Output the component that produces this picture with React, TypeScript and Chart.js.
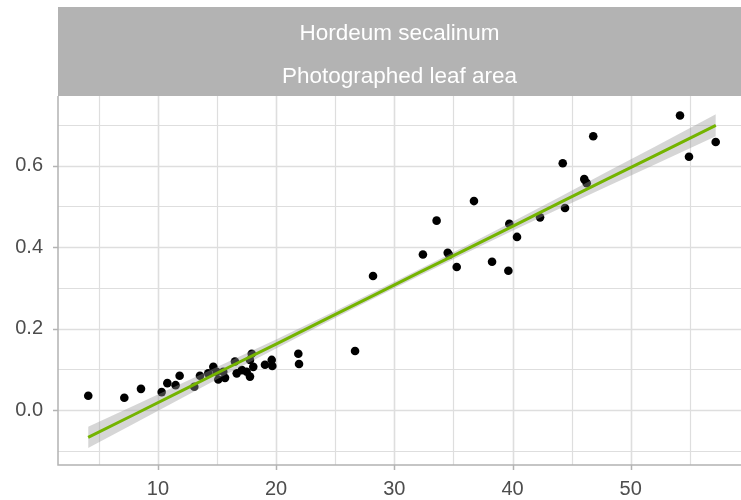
import React, { useEffect, useRef } from "react";
import { Chart, registerables } from "chart.js";

Chart.register(...registerables);

const stripLine1 = "Hordeum secalinum";
const stripLine2 = "Photographed leaf area";

const pointX = [
  4.11, 7.16, 8.57, 10.32, 10.8, 11.5, 11.84, 13.08, 13.56, 14.26, 14.69, 14.97, 15.11, 15.53, 15.68,
  16.52, 16.67, 17.1, 17.51, 17.79, 17.94, 18.07, 17.79, 19.06, 19.63, 19.68, 21.88, 21.94, 26.68,
  28.2, 32.42, 33.58, 34.52, 34.63, 35.28, 36.74, 38.27, 39.65, 39.73, 40.38, 42.33, 46.83, 44.25,
  46.07, 46.28, 44.44, 54.17, 54.93, 57.19,
];
const pointY = [
  0.035, 0.03, 0.052, 0.044, 0.066, 0.061, 0.084, 0.057, 0.084, 0.09, 0.106, 0.094, 0.075, 0.094, 0.079,
  0.119, 0.09, 0.098, 0.094, 0.123, 0.138, 0.106, 0.082, 0.111, 0.123, 0.108, 0.138, 0.113, 0.145,
  0.329, 0.382, 0.465, 0.386, 0.381, 0.351, 0.513, 0.364, 0.342, 0.457, 0.425, 0.473, 0.672, 0.606,
  0.567, 0.557, 0.496, 0.723, 0.622, 0.658,
];

const fitX = [4.1, 8, 12, 16, 20, 24, 28, 32, 36, 40, 44, 48, 52, 57.2];
const fitY = [-0.067, -0.011, 0.047, 0.105, 0.162, 0.22, 0.278, 0.336, 0.393, 0.451, 0.509, 0.567, 0.624, 0.699];
const bandHalf = [0.026, 0.022, 0.018, 0.014, 0.011, 0.009, 0.008, 0.008, 0.009, 0.011, 0.014, 0.018, 0.022, 0.027];

const xTicks = [10, 20, 30, 40, 50];
const xMinor = [5, 15, 25, 35, 45, 55];
const yTicks = [0, 0.2, 0.4, 0.6];
const yMinor = [-0.1, 0.1, 0.3, 0.5, 0.7];

const X_MIN = 1.55;
const X_MAX = 59.33;
const Y_MIN = -0.135;
const Y_MAX = 0.771;

const FONT = "'Liberation Sans', Arial, sans-serif";

const panelPlugin = {
  id: "panelDeco",
  beforeDatasetsDraw(chart: any) {
    const { ctx, chartArea, scales } = chart;
    const xs = scales.x;
    const ys = scales.y;
    ctx.save();
    ctx.strokeStyle = "#DEDEDE";
    ctx.lineWidth = 1.2;
    const drawV = (v: number) => {
      const px = Math.round(xs.getPixelForValue(v)) + 0.5;
      ctx.beginPath();
      ctx.moveTo(px, chartArea.top);
      ctx.lineTo(px, chartArea.bottom);
      ctx.stroke();
    };
    const drawH = (v: number) => {
      const py = Math.round(ys.getPixelForValue(v)) + 0.5;
      ctx.beginPath();
      ctx.moveTo(chartArea.left, py);
      ctx.lineTo(chartArea.right, py);
      ctx.stroke();
    };
    xMinor.forEach(drawV);
    yMinor.forEach(drawH);
    ctx.lineWidth = 1.6;
    xTicks.forEach(drawV);
    yTicks.forEach(drawH);
    ctx.restore();
  },
  afterDraw(chart: any) {
    const { ctx, chartArea, scales } = chart;
    const xs = scales.x;
    const ys = scales.y;
    ctx.save();
    ctx.strokeStyle = "#B3B3B3";
    ctx.lineWidth = 1.5;
    ctx.beginPath();
    ctx.moveTo(chartArea.left, chartArea.top);
    ctx.lineTo(chartArea.left, chartArea.bottom);
    ctx.lineTo(chartArea.right, chartArea.bottom);
    ctx.stroke();
    xTicks.forEach((v) => {
      const px = Math.round(xs.getPixelForValue(v)) + 0.5;
      ctx.beginPath();
      ctx.moveTo(px, chartArea.bottom);
      ctx.lineTo(px, chartArea.bottom + 5);
      ctx.stroke();
    });
    yTicks.forEach((v) => {
      const py = Math.round(ys.getPixelForValue(v)) + 0.5;
      ctx.beginPath();
      ctx.moveTo(chartArea.left - 5, py);
      ctx.lineTo(chartArea.left, py);
      ctx.stroke();
    });
    const stripTop = 7;
    ctx.fillStyle = "#B3B3B3";
    ctx.fillRect(chartArea.left, stripTop, chartArea.right - chartArea.left + 2, chartArea.top - stripTop);
    ctx.fillStyle = "#FFFFFF";
    ctx.font = `22.5px ${FONT}`;
    ctx.textAlign = "center";
    ctx.textBaseline = "middle";
    const cx = (chartArea.left + chartArea.right) / 2;
    ctx.fillText(stripLine1, cx, 34);
    ctx.fillText(stripLine2, cx, 77);
    ctx.restore();
  },
};

export default function App() {
  const ref = useRef<HTMLCanvasElement | null>(null);
  useEffect(() => {
    if (!ref.current) return;
    const points = pointX.map((x, i) => ({ x, y: pointY[i] }));
    const line = fitX.map((x, i) => ({ x, y: fitY[i] }));
    const lower = fitX.map((x, i) => ({ x, y: fitY[i] - bandHalf[i] }));
    const upper = fitX.map((x, i) => ({ x, y: fitY[i] + bandHalf[i] }));
    const chart = new Chart(ref.current, {
      type: "scatter",
      data: {
        datasets: [
          {
            type: "line",
            data: line,
            borderColor: "#74B400",
            borderWidth: 3,
            pointRadius: 0,
            fill: false,
            order: 1,
          } as any,
          {
            type: "line",
            data: lower,
            borderWidth: 0,
            borderColor: "rgba(0,0,0,0)",
            pointRadius: 0,
            fill: false,
            order: 2,
          } as any,
          {
            type: "line",
            data: upper,
            borderWidth: 0,
            borderColor: "rgba(0,0,0,0)",
            backgroundColor: "rgba(153,153,153,0.4)",
            pointRadius: 0,
            fill: "-1",
            order: 2,
          } as any,
          {
            data: points,
            backgroundColor: "#000000",
            borderColor: "#000000",
            borderWidth: 0,
            pointRadius: 4.3,
            order: 3,
          } as any,
        ],
      },
      options: {
        animation: false,
        responsive: false,
        layout: { autoPadding: false, padding: { top: 96, left: 0, right: 0, bottom: 0 } },
        plugins: { legend: { display: false }, tooltip: { enabled: false }, title: { display: false } },
        scales: {
          x: {
            type: "linear",
            min: X_MIN,
            max: X_MAX,
            afterBuildTicks: (s: any) => {
              s.ticks = xTicks.map((v) => ({ value: v }));
            },
            afterFit: (s: any) => {
              s.height = 35;
              s.paddingLeft = 0;
              s.paddingRight = 0;
            },
            grid: { display: false, drawTicks: false },
            border: { display: false },
            ticks: {
              padding: 12,
              color: "#4D4D4D",
              font: { family: FONT, size: 20 },
              maxRotation: 0,
              callback: (v: any) => String(v),
            },
          },
          y: {
            type: "linear",
            min: Y_MIN,
            max: Y_MAX,
            afterBuildTicks: (s: any) => {
              s.ticks = yTicks.map((v) => ({ value: v }));
            },
            afterFit: (s: any) => {
              s.width = 58;
              s.paddingTop = 0;
              s.paddingBottom = 0;
            },
            grid: { display: false, drawTicks: false },
            border: { display: false },
            ticks: {
              padding: 15,
              color: "#4D4D4D",
              font: { family: FONT, size: 20 },
              callback: (v: any) => Number(v).toFixed(1),
            },
          },
        },
      } as any,
      plugins: [panelPlugin],
    });
    return () => chart.destroy();
  }, []);
  return (
    <div style={{ position: "fixed", left: 0, top: 0, width: 741, height: 500, background: "#fff" }}>
      <canvas ref={ref} width={741} height={500} style={{ width: 741, height: 500, display: "block" }} />
    </div>
  );
}
